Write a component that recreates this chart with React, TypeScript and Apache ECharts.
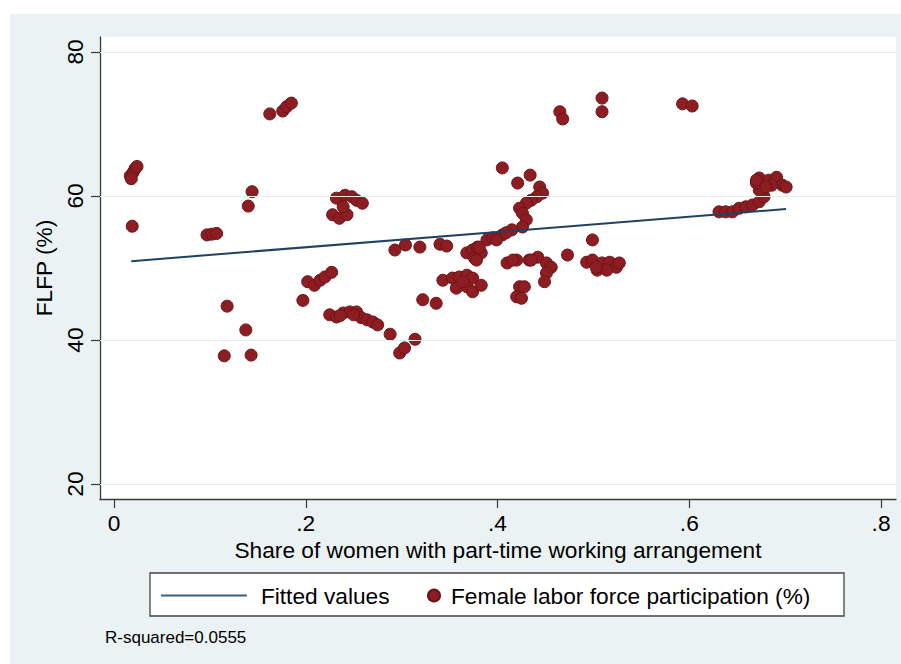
import React, { useEffect, useRef } from "react";
import * as echarts from "echarts";

// Tick values
const xTicks = [0, 0.2, 0.4, 0.6, 0.8];
const yTicks = [20, 40, 60, 80];

// Scatter data: share of women with part-time arrangement vs FLFP (%)
const shareX = [
  0.017, 0.02, 0.022, 0.024, 0.018, 0.019,
  0.097, 0.102, 0.107, 0.144, 0.14,
  0.1625, 0.176, 0.18, 0.185,
  0.118, 0.1375, 0.115, 0.143,
  0.197, 0.202, 0.209, 0.215, 0.22, 0.227,
  0.225, 0.232, 0.239, 0.246, 0.253, 0.258, 0.264, 0.27, 0.275, 0.236, 0.25,
  0.288, 0.298, 0.303, 0.314,
  0.293, 0.304, 0.319, 0.34, 0.347,
  0.322, 0.336,
  0.343, 0.353, 0.36, 0.368, 0.374, 0.357, 0.368, 0.374, 0.383, 0.364,
  0.41, 0.42, 0.433, 0.442, 0.451, 0.456, 0.451, 0.449, 0.423, 0.42, 0.425, 0.428, 0.416, 0.435,
  0.232, 0.241, 0.248, 0.253, 0.259, 0.228, 0.235, 0.243, 0.239,
  0.368, 0.374, 0.379, 0.376, 0.383, 0.389, 0.395, 0.381, 0.378,
  0.405, 0.421, 0.434, 0.444, 0.447, 0.441, 0.435, 0.43, 0.423, 0.426, 0.43, 0.426, 0.415, 0.405, 0.399, 0.409,
  0.473, 0.499, 0.493, 0.499, 0.504, 0.509, 0.517, 0.524, 0.514, 0.527, 0.503,
  0.465, 0.468, 0.509, 0.509, 0.593, 0.603,
  0.631, 0.638, 0.645, 0.652, 0.659, 0.666, 0.673, 0.678, 0.673, 0.67, 0.673, 0.683, 0.691, 0.697, 0.686, 0.701, 0.67, 0.68,
];
const flfpY = [
  62.8, 63.3, 63.8, 64.1, 62.4, 55.8,
  54.6, 54.7, 54.8, 60.6, 58.6,
  71.4, 71.8, 72.4, 72.9,
  44.7, 41.4, 37.8, 37.9,
  45.5, 48.1, 47.6, 48.3, 48.75, 49.4,
  43.5, 43.2, 43.75, 43.9, 43.9, 43.1, 42.8, 42.5, 42.1, 43.4, 43.5,
  40.8, 38.2, 38.9, 40.1,
  52.5, 53.2, 52.9, 53.3, 53.05,
  45.6, 45.1,
  48.3, 48.6, 48.75, 49.0, 48.6, 47.2, 47.4, 46.7, 47.6, 48.1,
  50.7, 51.1, 51.1, 51.5, 50.7, 50.1, 49.3, 48.1, 47.4, 46.0, 45.8, 47.4, 51.1, 51.1,
  59.7, 60.1, 59.9, 59.4, 59.0, 57.4, 56.9, 57.4, 58.5,
  52.1, 52.5, 52.9, 51.4, 52.1, 53.9, 54.2, 52.9, 51.1,
  63.9, 61.8, 62.9, 61.25, 60.4, 59.9, 59.4, 59.0, 58.3, 57.6, 56.7, 55.7, 55.3, 54.6, 53.9, 54.9,
  51.8, 53.9, 50.8, 51.1, 49.7, 50.7, 50.8, 50.1, 49.7, 50.7, 50.1,
  71.7, 70.7, 73.6, 71.7, 72.8, 72.5,
  57.8, 57.8, 57.8, 58.3, 58.5, 58.75, 59.2, 59.9, 60.8, 61.8, 62.5, 62.2, 62.6, 61.5, 61.5, 61.25, 62.2, 61.25,
];

// Fitted (linear fit) endpoints
const fittedX = [0.018, 0.701];
const fittedY = [50.95, 58.2];

const rSquaredText = "R-squared=0.0555";
const xTitle = "Share of women with part-time working arrangement";
const yTitle = "FLFP (%)";
const fitName = "Fitted values";
const scatterName = "Female labor force participation (%)";

const FONT = "'Liberation Sans', Arial, Helvetica, sans-serif";
const FS = 22.7;

export default function App() {
  const ref = useRef<HTMLDivElement>(null);

  useEffect(() => {
    if (!ref.current) return;
    const chart = echarts.init(ref.current, null, { renderer: "svg" });

    const scatterData = shareX.map((x, i) => [x, flfpY[i]]);
    const fitData = fittedX.map((x, i) => [x, fittedY[i]]);
    const axisColor = "#3a3a3a";

    const option: any = {
      animation: false,
      backgroundColor: "#EAF2F3",
      textStyle: { fontFamily: FONT },
      grid: {
        left: 90,
        top: 23,
        right: 5,
        bottom: 165,
        show: true,
        backgroundColor: "#ffffff",
        borderWidth: 0,
      },
      xAxis: {
        type: "value",
        min: -0.0146,
        max: 0.8156,
        name: xTitle,
        nameLocation: "middle",
        nameGap: 37,
        nameTextStyle: { fontSize: FS, color: "#000", fontFamily: FONT },
        axisLine: { show: true, onZero: false, lineStyle: { color: axisColor, width: 1.3 } },
        axisTick: { show: true, length: 9, customValues: xTicks, lineStyle: { color: axisColor, width: 1.2 } },
        axisLabel: {
          customValues: xTicks,
          margin: 12,
          fontSize: FS,
          color: "#000",
          fontFamily: FONT,
          formatter: (v: number) => (v === 0 ? "0" : String(+v.toFixed(2)).replace(/^0/, "")),
        },
        splitLine: { show: false },
      },
      yAxis: {
        type: "value",
        min: 17.917,
        max: 82.083,
        name: yTitle,
        nameLocation: "middle",
        nameGap: 42,
        nameRotate: 90,
        nameTextStyle: { fontSize: FS, color: "#000", fontFamily: FONT },
        axisLine: { show: true, onZero: false, lineStyle: { color: axisColor, width: 1.3 } },
        axisTick: { show: true, length: 9, customValues: yTicks, lineStyle: { color: axisColor, width: 1.2 } },
        axisLabel: {
          customValues: yTicks,
          rotate: 90,
          margin: 14,
          fontSize: FS,
          color: "#000",
          fontFamily: FONT,
        },
        splitLine: { show: false },
      },
      legend: [
        {
          data: [fitName],
          left: 150,
          top: 570,
          padding: 0,
          itemWidth: 86,
          itemHeight: 14,
          selectedMode: false,
          itemStyle: { opacity: 0 },
          lineStyle: { opacity: 1, width: 1.8, color: "#3b5f7e" },
          textStyle: { fontSize: FS, color: "#000", fontFamily: FONT, padding: [0, 0, 0, 9] },
        },
        {
          data: [scatterName],
          left: 417,
          top: 570,
          padding: 0,
          itemWidth: 12,
          itemHeight: 12,
          selectedMode: false,
          textStyle: { fontSize: FS, color: "#000", fontFamily: FONT, padding: [0, 0, 0, 6] },
        },
      ],
      graphic: [
        {
          type: "rect",
          z: -1,
          shape: { x: 140, y: 559, width: 694, height: 43 },
          style: { fill: "#ffffff", stroke: "#444", lineWidth: 1.3 },
          silent: true,
        },
        {
          type: "text",
          x: 95,
          y: 623,
          style: {
            text: rSquaredText,
            fontSize: 17,
            fontFamily: FONT,
            fill: "#000",
            textVerticalAlign: "middle",
          },
          silent: true,
        },
      ],
      series: [
        {
          name: fitName,
          type: "line",
          data: fitData,
          symbol: "none",
          lineStyle: { color: "#1f4260", width: 2 },
          itemStyle: { color: "#1f4260" },
          silent: true,
          markLine: {
            silent: true,
            symbol: "none",
            label: { show: false },
            lineStyle: { color: "#e4ecec", width: 1, type: "solid" },
            data: yTicks.map((v) => ({ yAxis: v })),
          },
        },
        {
          name: scatterName,
          type: "scatter",
          data: scatterData,
          symbol: "circle",
          symbolSize: 12,
          itemStyle: { color: "#8E1D23", borderColor: "#6a1418", borderWidth: 1, opacity: 1 },
          silent: true,
        },
      ],
    };

    chart.setOption(option);
    return () => chart.dispose();
  }, []);

  return (
    <div style={{ position: "fixed", left: 0, top: 0, width: 901, height: 664, background: "#ffffff" }}>
      <div ref={ref} style={{ position: "absolute", left: 10, top: 14, width: 891, height: 650 }} />
    </div>
  );
}
